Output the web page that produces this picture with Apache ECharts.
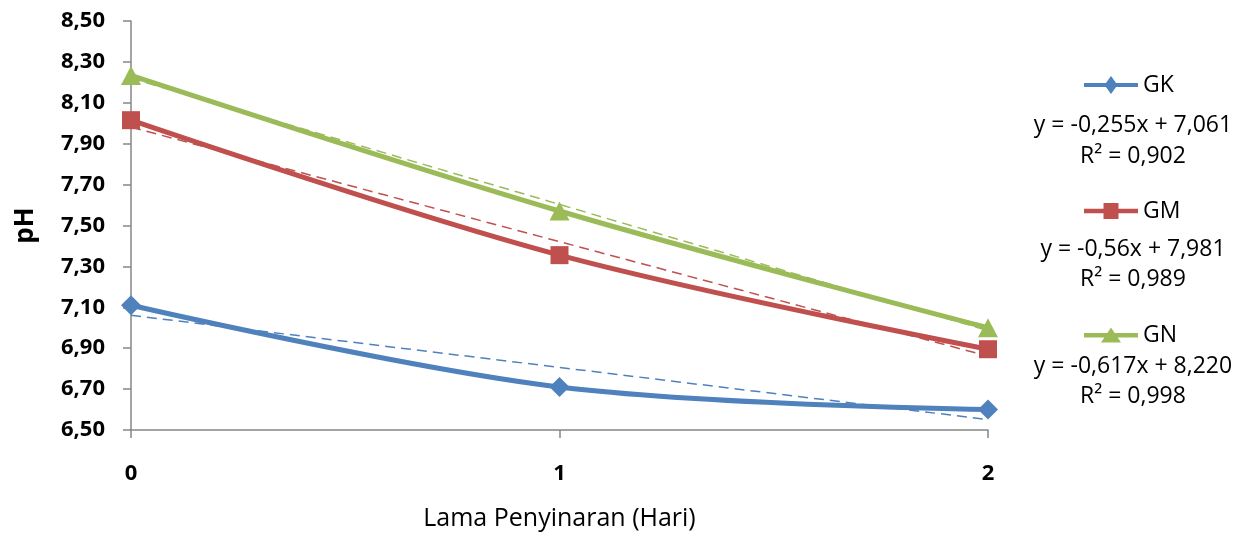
<!DOCTYPE html>
<html><head><meta charset="utf-8">
<script src="https://cdn.jsdelivr.net/npm/echarts@6/dist/echarts.min.js"></script>
<style>html,body{margin:0;padding:0;background:#fff}#c{width:1245px;height:536px}</style>
</head><body><div id="c"></div>
<script>
const categories = ['0', '1', '2'];
const seriesNames = ['GK', 'GM', 'GN'];
const GK = [7.11, 6.71, 6.60];
const GM = [8.015, 7.355, 6.895];
const GN = [8.234, 7.571, 7.000];
const trendSlopes = [-0.255, -0.56, -0.617];
const trendIntercepts = [7.061, 7.981, 8.220];
const equations = ['y = -0,255x + 7,061', 'y = -0,56x + 7,981', 'y = -0,617x + 8,220'];
const rSquared = ['R² = 0,902', 'R² = 0,989', 'R² = 0,998'];
const yTicks = { min: 6.5, max: 8.5, interval: 0.2 };

const colors = ['#4F81BD', '#C0504D', '#9BBB59'];
const symbols = ['diamond', 'rect', 'triangle'];
const symbolSizes = [[20, 20], [18, 18], [20, 19]];
const values = [GK, GM, GN];
const FONT = '"Open Sans", sans-serif';

const legendIcons = [
  { icon: 'path://M0,7L54,7L54,11L0,11ZM27,0L33.5,9L27,18L20.5,9Z', h: 18 },
  { icon: 'path://M0,5.8L54,5.8L54,10.2L0,10.2ZM19.5,0L34.5,0L34.5,16L19.5,16Z', h: 16 },
  { icon: 'path://M0,5.5L54,5.5L54,10L0,10ZM27,0L37,15L17,15Z', h: 15 }
];
const legendCenters = [85, 211, 335];
const eqCenters = [125, 249, 366];
const r2Centers = [156, 279, 396];

const chart = echarts.init(document.getElementById('c'));
const series = [];
values.forEach((v, i) => {
  series.push({
    name: seriesNames[i], type: 'line', data: v, smooth: 0.35,
    symbol: symbols[i], symbolSize: symbolSizes[i],
    lineStyle: { color: colors[i], width: 5 },
    itemStyle: { color: colors[i] }, z: 3
  });
  series.push({
    name: seriesNames[i] + ' trend', type: 'line',
    data: categories.map((c, k) => trendIntercepts[i] + trendSlopes[i] * k),
    symbol: 'none', lineStyle: { color: colors[i], width: 1.5, type: [10, 6] }, z: 2, silent: true
  });
});

chart.setOption({
  animation: false,
  backgroundColor: '#fff',
  grid: { left: 131, right: 257, top: 21, bottom: 104, containLabel: false },
  xAxis: {
    type: 'category', data: categories, boundaryGap: false,
    name: 'Lama Penyinaran (Hari)', nameLocation: 'middle', nameGap: 76,
    nameTextStyle: { fontFamily: FONT, fontSize: 25, color: '#000' },
    axisLine: { lineStyle: { color: '#868686', width: 1.5 } },
    axisTick: { show: true, length: 8, lineStyle: { color: '#868686', width: 1.5 }, alignWithLabel: true },
    axisLabel: { fontFamily: FONT, fontSize: 22, fontWeight: 'bold', color: '#000', margin: 33 },
    splitLine: { show: false }
  },
  yAxis: {
    type: 'value', min: yTicks.min, max: yTicks.max, interval: yTicks.interval,
    name: 'pH', nameLocation: 'middle', nameGap: 92, nameRotate: 90,
    nameTextStyle: { fontFamily: FONT, fontSize: 26, fontWeight: 'bold', color: '#000' },
    axisLine: { show: true, lineStyle: { color: '#868686', width: 1.5 } },
    axisTick: { show: true, length: 8, lineStyle: { color: '#868686', width: 1.5 } },
    axisLabel: { fontFamily: FONT, fontSize: 22, fontWeight: 'bold', color: '#000', margin: 26,
      formatter: v => v.toFixed(2).replace('.', ',') },
    splitLine: { show: false }
  },
  legend: seriesNames.map((n, i) => ({
    data: [{ name: n, icon: legendIcons[i].icon }],
    left: 1079, top: legendCenters[i] - 16.5, orient: 'vertical',
    itemWidth: 54, itemHeight: legendIcons[i].h, itemGap: 4,
    textStyle: { fontFamily: FONT, fontSize: 23, color: '#000' },
    selectedMode: false
  })),
  graphic: seriesNames.flatMap((n, i) => [
    { type: 'text', x: 1133, y: eqCenters[i], style: { text: equations[i], font: '23px ' + FONT, fill: '#000', textAlign: 'center', textVerticalAlign: 'middle' } },
    { type: 'text', x: 1133, y: r2Centers[i], style: { text: rSquared[i], font: '23px ' + FONT, fill: '#000', textAlign: 'center', textVerticalAlign: 'middle' } }
  ]),
  series
});
</script></body></html>
